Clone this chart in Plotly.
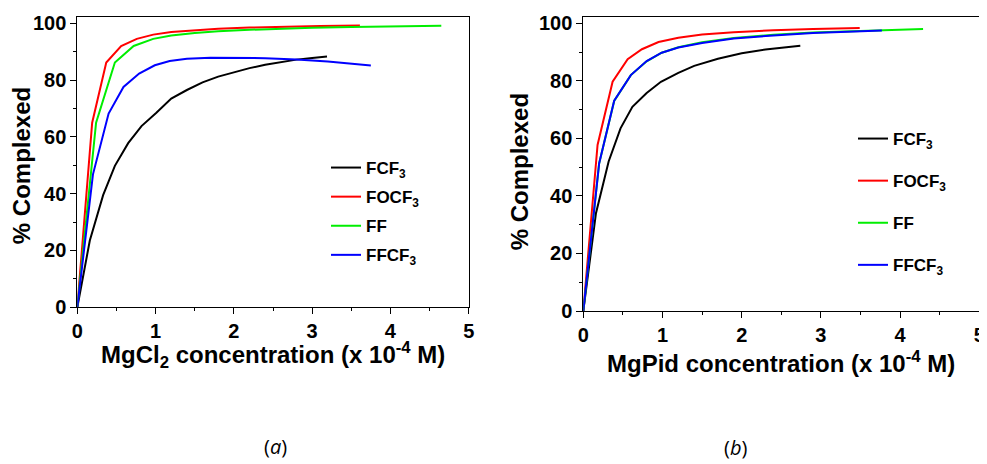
import plotly.graph_objects as go

# ---------------- data: panel (a) MgCl2 ----------------
a_fcf3_x = [0, 0.16, 0.33, 0.48, 0.65, 0.82, 1.01, 1.2, 1.4, 1.6, 1.8, 2.0, 2.2, 2.4, 2.6, 2.8, 3.0, 3.19]
a_fcf3_y = [0, 23.5, 39.5, 49.8, 57.8, 63.8, 68.5, 73.5, 76.5, 79.2, 81.2, 82.7, 84.2, 85.4, 86.4, 87.2, 87.8, 88.3]
a_focf3_x = [0, 0.19, 0.37, 0.56, 0.76, 0.97, 1.2, 1.5, 1.8, 2.2, 2.6, 3.1, 3.61]
a_focf3_y = [0, 65, 86.2, 92, 94.5, 96, 96.9, 97.6, 98.1, 98.5, 98.8, 99.0, 99.2]
a_ff_x = [0, 0.24, 0.48, 0.72, 0.97, 1.2, 1.5, 1.8, 2.2, 2.6, 3.0, 3.5, 4.0, 4.65]
a_ff_y = [0, 65, 86.2, 92, 94.5, 95.7, 96.6, 97.2, 97.7, 98.1, 98.4, 98.7, 98.9, 99.1]
a_ffcf3_x = [0, 0.2, 0.4, 0.59, 0.79, 0.99, 1.18, 1.4, 1.7, 2.0, 2.4, 2.8, 3.2, 3.75]
a_ffcf3_y = [0, 46.8, 68.2, 77.6, 82.3, 85.2, 86.7, 87.5, 87.9, 87.9, 87.7, 87.2, 86.5, 85.1]

# ---------------- data: panel (b) MgPid ----------------
b_fcf3_x = [0, 0.16, 0.32, 0.47, 0.62, 0.8, 0.98, 1.2, 1.4, 1.7, 2.0, 2.3, 2.74]
b_fcf3_y = [0, 34, 52, 63.5, 71, 75.8, 79.7, 82.8, 85.2, 87.7, 89.6, 90.9, 92.2]
b_focf3_x = [0, 0.18, 0.37, 0.56, 0.74, 0.95, 1.2, 1.5, 1.9, 2.4, 2.9, 3.49]
b_focf3_y = [0, 57.7, 79.7, 87.5, 91, 93.5, 95.0, 96.1, 96.9, 97.6, 98.0, 98.4]
b_ff_x = [0, 0.2, 0.39, 0.6, 0.8, 0.99, 1.2, 1.5, 1.9, 2.4, 2.9, 3.4, 3.8, 4.29]
b_ff_y = [0, 51.3, 73, 82, 86.8, 89.8, 91.7, 93.4, 94.9, 96.0, 96.8, 97.3, 97.6, 98.0]
b_ffcf3_x = [0, 0.2, 0.39, 0.6, 0.8, 0.99, 1.2, 1.5, 1.9, 2.4, 2.9, 3.4, 3.77]
b_ffcf3_y = [0, 51.3, 73.1, 82, 86.9, 89.8, 91.6, 93.2, 94.7, 95.8, 96.6, 97.1, 97.5]

series_names = ["FCF<sub>3</sub>", "FOCF<sub>3</sub>", "FF", "FFCF<sub>3</sub>"]
colors = ["#000000", "#ff0000", "#00ee00", "#0000ff"]

x_ticks = [0, 1, 2, 3, 4, 5]
y_ticks = [0, 20, 40, 60, 80, 100]

y_title = "% Complexed"
xa_title = "MgCl<sub>2</sub> concentration (x 10<sup>-4</sup> M)"
xb_title = "MgPid concentration (x 10<sup>-4</sup> M)"

FONT = "Liberation Sans, Arial, Helvetica, sans-serif"
OFF = 8            # page body margin of the browser
W, H = 987 - OFF, 464 - OFF

fig = go.Figure()

panel_a = [(a_fcf3_x, a_fcf3_y), (a_focf3_x, a_focf3_y), (a_ff_x, a_ff_y), (a_ffcf3_x, a_ffcf3_y)]
panel_b = [(b_fcf3_x, b_fcf3_y), (b_focf3_x, b_focf3_y), (b_ff_x, b_ff_y), (b_ffcf3_x, b_ffcf3_y)]

for i, (xs, ys) in enumerate(panel_a):
    fig.add_trace(go.Scatter(x=xs, y=ys, mode="lines", name=series_names[i],
                             line=dict(color=colors[i], width=2),
                             xaxis="x", yaxis="y", legend="legend",
                             legendgroup="a%d" % i))
for i, (xs, ys) in enumerate(panel_b):
    fig.add_trace(go.Scatter(x=xs, y=ys, mode="lines", name=series_names[i],
                             line=dict(color=colors[i], width=2),
                             xaxis="x2", yaxis="y2", legend="legend2",
                             legendgroup="b%d" % i))

def px_x(p):
    return (p - OFF) / W

def px_y(p):
    return 1 - (p - OFF) / H

xa_dom = [px_x(77.3), px_x(468.7)]
xb_dom = [px_x(583.3), px_x(979.3)]
ya_dom = [px_y(307.3), px_y(17.3)]
yb_dom = [px_y(311.0), px_y(17.3)]

tickfont = dict(family=FONT, size=20, color="black", weight="bold")
titlefont = dict(family=FONT, size=24, color="black", weight="bold")

def xaxis(dom, anchor):
    return dict(domain=dom, anchor=anchor, range=[0, 5], tickvals=x_ticks,
                ticktext=[str(v) for v in x_ticks], automargin=False,
                ticklabeloverflow="allow",
                ticks="outside", ticklen=6, tickwidth=1, tickcolor="black",
                minor=dict(ticks="outside", ticklen=3, dtick=0.5, tickcolor="black", tickwidth=1),
                showline=True, linecolor="black", linewidth=1, mirror=True,
                showgrid=False, zeroline=False, tickfont=tickfont)

def yaxis(dom, anchor):
    return dict(domain=dom, anchor=anchor, range=[0, 102.1], tickvals=y_ticks,
                ticktext=[str(v) for v in y_ticks], automargin=False,
                ticks="outside", ticklen=6, tickwidth=1, tickcolor="black",
                minor=dict(ticks="outside", ticklen=3, dtick=10, tickcolor="black", tickwidth=1),
                showline=True, linecolor="black", linewidth=1, mirror=True,
                showgrid=False, zeroline=False, tickfont=tickfont)

def right_ticks(dom, anchor, over):
    return dict(domain=dom, anchor=anchor, overlaying=over, side="right",
                range=[0, 102.1], dtick=10, tick0=0, ticks="inside", ticklen=3,
                tickwidth=1, tickcolor="black", showticklabels=False, automargin=False,
                showline=False, showgrid=False, zeroline=False)

legend_common = dict(font=dict(family=FONT, size=17, color="black", weight="bold"),
                     bgcolor="rgba(0,0,0,0)", borderwidth=0, traceorder="grouped",
                     xanchor="left", yanchor="top", itemclick=False, itemdoubleclick=False)

def ann(text, x, y, font, angle=0):
    return dict(text=text, x=px_x(x), y=px_y(y), xref="paper", yref="paper",
                xanchor="center", yanchor="middle", showarrow=False,
                textangle=angle, font=font)

cap_font = dict(family="Open Sans, Noto Sans, sans-serif", size=20, color="black")

fig.update_layout(
    template="none",
    width=W, height=H,
    margin=dict(l=0, r=0, t=0, b=0, pad=0),
    paper_bgcolor="white", plot_bgcolor="white",
    showlegend=True,
    xaxis=xaxis(xa_dom, "y"),
    yaxis=yaxis(ya_dom, "x"),
    xaxis2=xaxis(xb_dom, "y2"),
    yaxis2=yaxis(yb_dom, "x2"),
    yaxis3=right_ticks(ya_dom, "x", "y"),
    yaxis4=right_ticks(yb_dom, "x2", "y2"),
    legend=dict(x=px_x(326), y=px_y(150), tracegroupgap=4, **legend_common),
    legend2=dict(x=px_x(853), y=px_y(121), tracegroupgap=17, **legend_common),
    annotations=[
        ann(y_title, 21.7, 165.5, titlefont, -90),
        ann(y_title, 519.3, 172, titlefont, -90),
        ann(xa_title, 273.3, 355, titlefont),
        ann(xb_title, 780.8, 362, titlefont),
        ann("(<i>a</i>)", 275, 446, cap_font),
        ann("(<i>b</i>)", 735, 447, cap_font),
    ],
)

fig.write_html("out.html")
